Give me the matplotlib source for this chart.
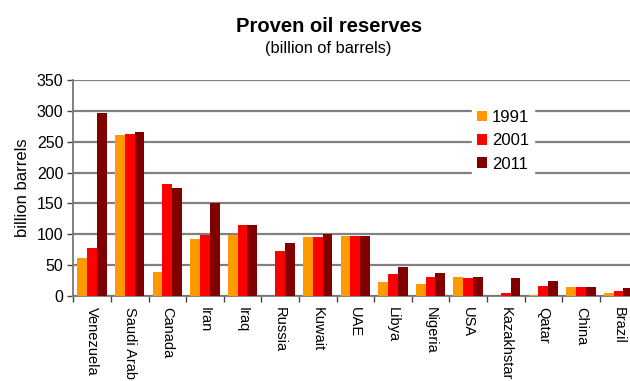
import matplotlib
matplotlib.use("Agg")
import matplotlib.pyplot as plt
import numpy as np

countries = ["Venezuela", "Saudi Arab", "Canada", "Iran", "Iraq", "Russia", "Kuwait",
             "UAE", "Libya", "Nigeria", "USA", "Kazakhstar", "Qatar", "China", "Brazil"]
reserves_1991 = [62, 261, 39, 92, 99, 0, 96, 98, 23, 19, 31, 0, 2, 15, 5]
reserves_2001 = [78, 263, 181, 99, 115, 73, 96, 98, 36, 31, 29, 5, 16, 15, 8]
reserves_2011 = [297, 265, 175, 151, 115, 86, 101, 98, 47, 37, 31, 29, 25, 15, 13]
years = ["1991", "2001", "2011"]
colors = ["#FF9900", "#FF0000", "#800000"]
y_ticks = [0, 50, 100, 150, 200, 250, 300, 350]

plt.rcParams["font.family"] = ["Liberation Sans", "DejaVu Sans"]

fig = plt.figure(figsize=(6.3, 3.81), dpi=100)
ax = fig.add_axes([73.3 / 630, 1 - 296 / 381, 564 / 630, 216 / 381])

x = np.arange(len(countries))
width = 0.26
series = [reserves_1991, reserves_2001, reserves_2011]
for i, (vals, col, yr) in enumerate(zip(series, colors, years)):
    ax.bar(x + (i - 1) * width, vals, width, color=col, label=yr, zorder=3, linewidth=0)

ax.set_xlim(-0.5, len(countries) - 0.5)
ax.set_ylim(0, 350)
ax.set_yticks(y_ticks)
ax.yaxis.grid(True, color="#808080", linewidth=1.6, zorder=0)
ax.set_axisbelow(True)

ax.set_xticks(x)
ax.set_xticklabels(countries, rotation=-90, fontsize=10.5, va="top", ha="center")
ax.set_xticks(np.arange(-0.5, len(countries), 1), minor=True)
ax.tick_params(axis="x", which="major", length=0, pad=8)
ax.tick_params(axis="x", which="minor", length=4, width=1, color="#444444")
ax.tick_params(axis="y", length=4, width=1, color="#444444", labelsize=11.5, pad=3)

for side in ["top", "right"]:
    ax.spines[side].set_visible(False)
for side in ["left", "bottom"]:
    ax.spines[side].set_color("#777777")
    ax.spines[side].set_linewidth(1.3)

ax.set_ylabel("billion barrels", fontsize=12, labelpad=5)

fig.text(329 / 630, 1 - 27 / 381, "Proven oil reserves", ha="center", va="center",
         fontsize=14.5, fontweight="bold")
fig.text(328 / 630, 1 - 48 / 381, "(billion of barrels)", ha="center", va="center",
         fontsize=11.8)

leg = ax.legend(loc="upper left", bbox_to_anchor=(472 / 630, 1 - 105 / 381),
                bbox_transform=fig.transFigure, frameon=True, fontsize=12,
                handlelength=0.6, handleheight=0.6, handletextpad=0.3,
                labelspacing=0.5, borderpad=0.3, borderaxespad=0)
leg.get_frame().set_facecolor("white")
leg.get_frame().set_edgecolor("white")
leg.get_frame().set_alpha(1)
leg.set_zorder(5)

fig.savefig("out.png", dpi=100)
